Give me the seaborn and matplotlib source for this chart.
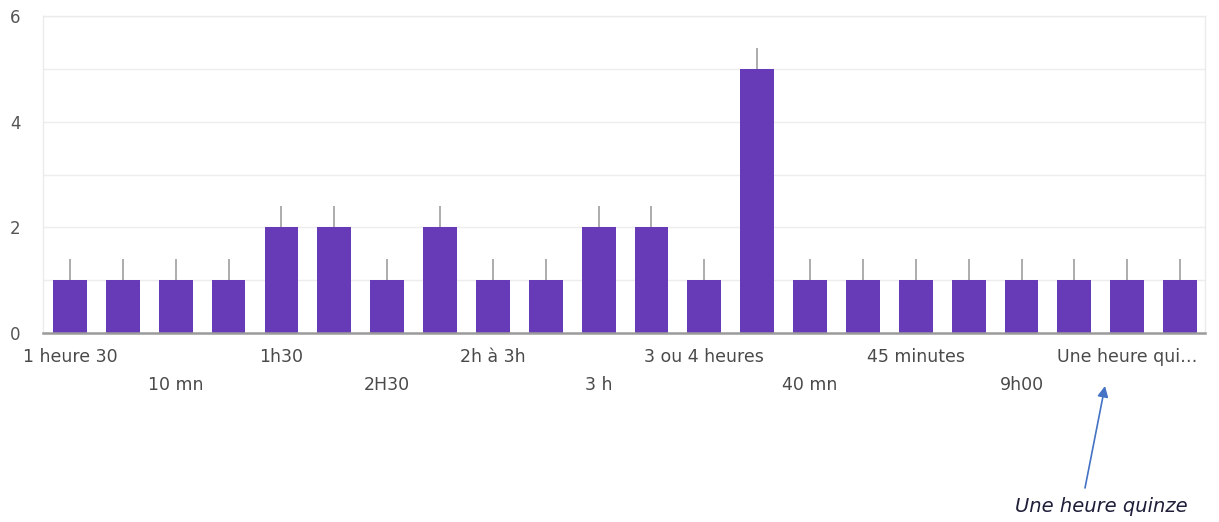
import matplotlib
matplotlib.use("Agg")
import matplotlib.pyplot as plt
import seaborn as sns
import numpy as np
import pandas as pd

# Réponses (une étiquette affichée sur deux) et nombre de réponses par durée
labels_shown = ["1 heure 30", "10 mn", "1h30", "2H30", "2h à 3h", "3 h",
                "3 ou 4 heures", "40 mn", "45 minutes", "9h00", "Une heure qui…"]
counts = [1, 1, 1, 1, 2, 2, 1, 2, 1, 1, 2, 2, 1, 5, 1, 1, 1, 1, 1, 1, 1, 1]
stub = 0.4  # petit trait gris au-dessus de chaque barre

sns.set_theme(style="white")
plt.rcParams["font.family"] = ["DejaVu Sans"]

fig = plt.figure(figsize=(12.19, 5.22), dpi=100)
ax = fig.add_axes([0.0353, 0.362, 0.9532, 0.607])

df = pd.DataFrame({"pos": np.arange(len(counts)), "n": counts})
sns.barplot(data=df, x="pos", y="n", native_scale=True, color="#673ab7",
            saturation=1, width=0.64, ax=ax, zorder=3, linewidth=0)
ax.errorbar(df["pos"], df["n"], yerr=[np.zeros(len(counts)), np.full(len(counts), stub)],
            fmt="none", ecolor="#9e9e9e", elinewidth=1.2, capsize=0, zorder=2)

ax.set_xlim(-0.51, len(counts) - 1 + 0.47)
ax.set_ylim(0, 6)
ax.set_xlabel("")
ax.set_ylabel("")

# grille horizontale légère à chaque unité
for yv in range(1, 7):
    ax.axhline(yv, color="#ededed", lw=1, zorder=0)
ax.set_yticks([0, 2, 4, 6])
ax.tick_params(axis="y", length=0, pad=16, labelsize=12, labelcolor="#555555")

ticks = np.arange(0, len(counts), 2)
ax.set_xticks(ticks)
ax.set_xticklabels([lab if i % 2 == 0 else "\n" + lab for i, lab in enumerate(labels_shown)])
ax.tick_params(axis="x", length=0, pad=11, labelsize=12.5, labelcolor="#4a4a4a")
for t in ax.get_xticklabels():
    t.set_linespacing(1.72)

for side in ["left", "top", "right"]:
    ax.spines[side].set_color("#ebebeb")
    ax.spines[side].set_linewidth(1)
ax.spines["bottom"].set_color("#9a9a9a")
ax.spines["bottom"].set_linewidth(1.8)
ax.spines["bottom"].set_zorder(4)

# annotation de l'étiquette tronquée
fig.text(1101 / 1219, 1 - 507 / 522, "Une heure quinze", ha="center", va="center",
         fontsize=14, style="italic", color="#1f1f3a", family=["DejaVu Sans"])
ax.annotate("", xy=(1105 / 1219, 1 - 386 / 522), xycoords="figure fraction",
            xytext=(1085 / 1219, 1 - 488 / 522), textcoords="figure fraction",
            arrowprops=dict(arrowstyle="-|>", color="#4472c4", lw=1.2,
                            mutation_scale=16, shrinkA=0, shrinkB=0))

fig.savefig("out.png", dpi=100, facecolor="white")
